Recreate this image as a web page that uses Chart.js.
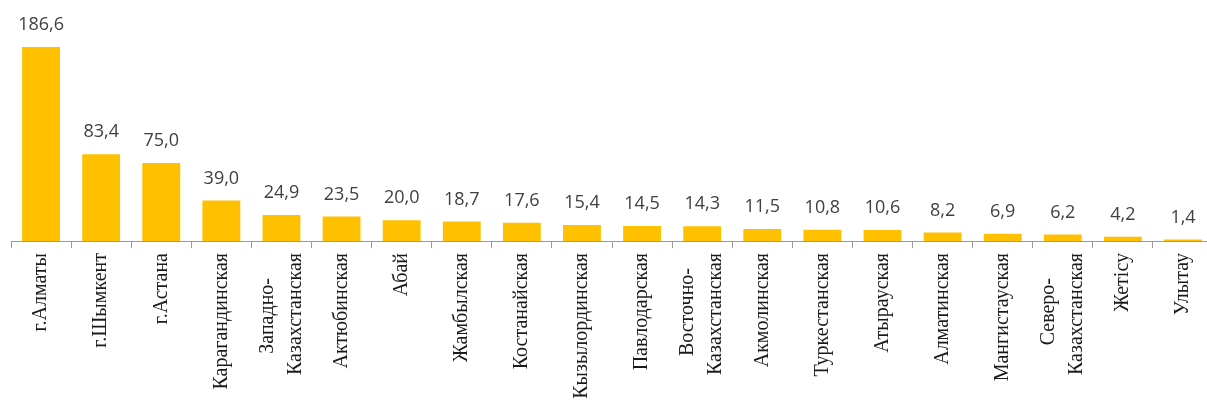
<!DOCTYPE html>
<html>
<head>
<meta charset="utf-8">
<script src="https://cdn.jsdelivr.net/npm/chart.js@4/dist/chart.umd.min.js"></script>
<style>
  html, body { margin: 0; padding: 0; background: #fff; overflow: hidden; }
  #wrap { position: relative; width: 1216px; height: 405px; }
</style>
</head>
<body>
<div id="wrap"><canvas id="myChart"></canvas></div>
<script>
// regions (two-line names kept as arrays)
const regions = [
    'г.Алматы', 'г.Шымкент', 'г.Астана', 'Карагандинская',
    ['Западно-', 'Казахстанская'], 'Актюбинская', 'Абай', 'Жамбылская',
    'Костанайская', 'Кызылординская', 'Павлодарская',
    ['Восточно-', 'Казахстанская'], 'Акмолинская', 'Туркестанская',
    'Атырауская', 'Алматинская', 'Мангистауская',
    ['Северо-', 'Казахстанская'], 'Жетісу', 'Улытау'
];
const values = [
    186.6, 83.4, 75.0, 39.0, 24.9, 23.5, 20.0, 18.7, 17.6, 15.4,
    14.5, 14.3, 11.5, 10.8, 10.6, 8.2, 6.9, 6.2, 4.2, 1.4
];

const barColor = '#FFC000';
const axisColor = '#9a9a9a';
const tickFont = { family: '"Liberation Serif", "Times New Roman", serif', size: 20, lineHeight: 1.4 };

// pad the shorter line so both lines of a rotated label sit centered
const measureCtx = document.createElement('canvas').getContext('2d');
measureCtx.font = tickFont.size + 'px ' + tickFont.family;
function centerLines(label) {
    if (!Array.isArray(label)) return label;
    const widths = label.map(t => measureCtx.measureText(t).width);
    const maxW = Math.max(...widths);
    const sp = measureCtx.measureText(' ').width;
    return label.map((t, i) => t + ' '.repeat(Math.round((maxW - widths[i]) / 2 / sp)));
}

// value labels above bars
const valueLabels = {
    id: 'valueLabels',
    afterDatasetsDraw(chart) {
        const ctx = chart.ctx;
        const meta = chart.getDatasetMeta(0);
        ctx.save();
        ctx.font = '18px "Open Sans", sans-serif';
        ctx.fillStyle = '#404040';
        ctx.textAlign = 'center';
        ctx.textBaseline = 'middle';
        meta.data.forEach((bar, i) => {
            const txt = values[i].toFixed(1).replace('.', ',');
            ctx.fillText(txt, bar.x, bar.y - 22);
        });
        ctx.restore();
    }
};

// move two-line labels so the block is centered on its category
const centerMultiLine = {
    id: 'centerMultiLine',
    beforeDraw(chart) {
        chart.scales.x.getLabelItems().forEach(item => {
            if (Array.isArray(item.label) && item.label.length > 1 && !item._shifted) {
                item.options.translation[0] -= item.font.lineHeight * (item.label.length - 1) / 2;
                item._shifted = true;
            }
        });
    }
};

const myChart = new Chart(document.getElementById('myChart'), {
    type: 'bar',
    data: {
        labels: regions,
        datasets: [{
            data: values,
            backgroundColor: barColor,
            barPercentage: 0.63,
            categoryPercentage: 1.0
        }]
    },
    options: {
        responsive: true,
        maintainAspectRatio: false,
        animation: false,
        layout: { padding: { left: 11, top: 33, right: 0, bottom: 0 } },
        plugins: {
            legend: { display: false },
            tooltip: { enabled: false }
        },
        scales: {
            x: {
                grid: {
                    offset: true,
                    drawOnChartArea: false,
                    drawTicks: true,
                    tickLength: 7,
                    color: axisColor
                },
                border: { display: true, color: axisColor },
                ticks: {
                    autoSkip: false,
                    minRotation: 90,
                    maxRotation: 90,
                    padding: 5,
                    color: '#1a1a1a',
                    font: tickFont,
                    callback: function (value) {
                        return centerLines(this.getLabelForValue(value));
                    }
                },
                afterFit(scale) { scale.height = 405 - 241; }
            },
            y: {
                display: false,
                min: 0,
                max: 200
            }
        }
    },
    plugins: [valueLabels, centerMultiLine]
});
</script>
</body>
</html>
